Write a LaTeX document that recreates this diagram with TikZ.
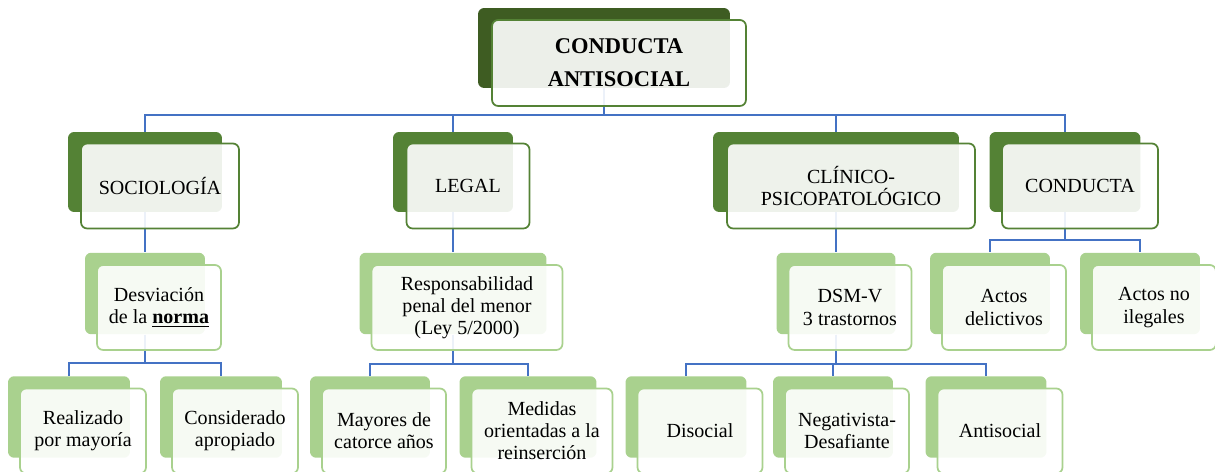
\documentclass[tikz,border=0pt]{standalone}
\usepackage{fontspec}
\setmainfont{Liberation Serif}
\usetikzlibrary{calc, positioning}
\definecolor{darkolive}{HTML}{3E5C22}
\definecolor{midgreen}{HTML}{548235}
\definecolor{lightgreen}{HTML}{A9D18E}
\definecolor{linkblue}{HTML}{4472C4}
\tikzset{
    topback/.style={rectangle, rounded corners=3.5pt, fill=darkolive, minimum height=1.6cm, inner sep=0pt},
    midback/.style={rectangle, rounded corners=3.5pt, fill=midgreen, minimum height=1.6cm, inner sep=0pt},
    lowback/.style={rectangle, rounded corners=3.5pt, fill=lightgreen, minimum height=1.63cm, inner sep=0pt},
    topfront/.style={rectangle, rounded corners=3.5pt, draw=midgreen, line width=1pt, fill=white, fill opacity=0.9, text opacity=1, minimum height=1.72cm, inner sep=0pt, align=center, font=\fontsize{12.8}{18.8}\selectfont\bfseries},
    midfront/.style={rectangle, rounded corners=3.5pt, draw=midgreen, line width=1pt, fill=white, fill opacity=0.9, text opacity=1, minimum height=1.7cm, inner sep=0pt, align=center, font=\fontsize{11.4}{12.6}\selectfont},
    lowfront/.style={rectangle, rounded corners=3.5pt, draw=lightgreen, line width=1pt, fill=white, fill opacity=0.9, text opacity=1, minimum height=1.7cm, inner sep=0pt, align=center, font=\fontsize{11.4}{12.6}\selectfont},
    link/.style={draw=linkblue, line width=1.1pt}
}

\begin{document}
\begin{tikzpicture}[x=0.02cm, y=-0.02cm]
    \useasboundingbox (0,0) rectangle (1215,472);

    % Back shapes
    \node[topback, minimum width=5.04cm] (topb) at (604,48) {};
    \node[midback, minimum width=3.08cm] (socb) at (145,172) {};
    \node[midback, minimum width=2.4cm] (legb) at (453,172) {};
    \node[midback, minimum width=4.92cm] (clinb) at (836,172) {};
    \node[midback, minimum width=3.02cm] (condb) at (1065,172) {};
    \node[lowback, minimum width=2.4cm] (desvb) at (145,293.5) {};
    \node[lowback, minimum width=3.74cm] (respb) at (453,293.5) {};
    \node[lowback, minimum width=2.38cm] (dsmb) at (836,293.5) {};
    \node[lowback, minimum width=2.4cm] (delb) at (990,293.5) {};
    \node[lowback, minimum width=2.4cm] (noilb) at (1140,293.5) {};
    \node[lowback, minimum width=2.44cm] (realb) at (69,417) {};
    \node[lowback, minimum width=2.44cm] (consb) at (221,417) {};
    \node[lowback, minimum width=2.4cm] (mayb) at (370,417) {};
    \node[lowback, minimum width=2.74cm] (medb) at (528,417) {};
    \node[lowback, minimum width=2.42cm] (disb) at (686,417) {};
    \node[lowback, minimum width=2.4cm] (negb) at (833,417) {};
    \node[lowback, minimum width=2.42cm] (antb) at (986,417) {};

    % Tree links
    \draw[link] (topb.south) -- ++(0,27) -| (socb.north);
    \draw[link] (topb.south) -- ++(0,27) -| (legb.north);
    \draw[link] (topb.south) -- ++(0,27) -| (clinb.north);
    \draw[link] (topb.south) -- ++(0,27) -| (condb.north);
    \draw[link] (socb.south) -- (desvb.north);
    \draw[link] (legb.south) -- (respb.north);
    \draw[link] (clinb.south) -- (dsmb.north);
    \draw[link] (condb.south) -- ++(0,28) -| (delb.north);
    \draw[link] (condb.south) -- ++(0,28) -| (noilb.north);
    \draw[link] (desvb.south) -- ++(0,28) -| (realb.north);
    \draw[link] (desvb.south) -- ++(0,28) -| (consb.north);
    \draw[link] (respb.south) -- ++(0,29) -| (mayb.north);
    \draw[link] (respb.south) -- ++(0,29) -| (medb.north);
    \draw[link] (dsmb.south) -- ++(0,29) -| (disb.north);
    \draw[link] (dsmb.south) -- ++(0,29) -| (negb.north);
    \draw[link] (dsmb.south) -- ++(0,29) -| (antb.north);

    % Front shapes with text
    \node[topfront, minimum width=5.08cm] (top) at ($(topb)+(15,15)$) {CONDUCTA\\ANTISOCIAL};
    \node[midfront, minimum width=3.16cm] (soc) at ($(socb)+(15,14)$) {SOCIOLOGÍA};
    \node[midfront, minimum width=2.46cm] (leg) at ($(legb)+(15,14)$) {LEGAL};
    \node[midfront, minimum width=4.96cm] (clin) at ($(clinb)+(15,14)$) {CLÍNICO-\\PSICOPATOLÓGICO};
    \node[midfront, minimum width=3.12cm] (cond) at ($(condb)+(15,14)$) {CONDUCTA};
    \node[lowfront, minimum width=2.48cm] (desv) at ($(desvb)+(14,14)$) {Desviación\\de la \textbf{\underline{norma}}};
    \node[lowfront, minimum width=3.82cm] (resp) at ($(respb)+(14,14)$) {Responsabilidad\\penal del menor\\(Ley 5/2000)};
    \node[lowfront, minimum width=2.46cm] (dsm) at ($(dsmb)+(14,14)$) {DSM-V\\3 trastornos};
    \node[lowfront, minimum width=2.48cm] (del) at ($(delb)+(14,14)$) {Actos\\delictivos};
    \node[lowfront, minimum width=2.48cm] (noil) at ($(noilb)+(14,14)$) {Actos no\\ilegales};
    \node[lowfront, minimum width=2.52cm] (real) at ($(realb)+(14,14)$) {Realizado\\por mayoría};
    \node[lowfront, minimum width=2.52cm] (cons) at ($(consb)+(14,14)$) {Considerado\\apropiado};
    \node[lowfront, minimum width=2.48cm] (may) at ($(mayb)+(14,14)$) {Mayores de\\catorce años};
    \node[lowfront, minimum width=2.82cm] (med) at ($(medb)+(14,14)$) {Medidas\\orientadas a la\\reinserción};
    \node[lowfront, minimum width=2.5cm] (dis) at ($(disb)+(14,14)$) {Disocial};
    \node[lowfront, minimum width=2.48cm] (neg) at ($(negb)+(14,14)$) {Negativista-\\Desafiante};
    \node[lowfront, minimum width=2.5cm] (ant) at ($(antb)+(14,14)$) {Antisocial};
\end{tikzpicture}
\end{document}
